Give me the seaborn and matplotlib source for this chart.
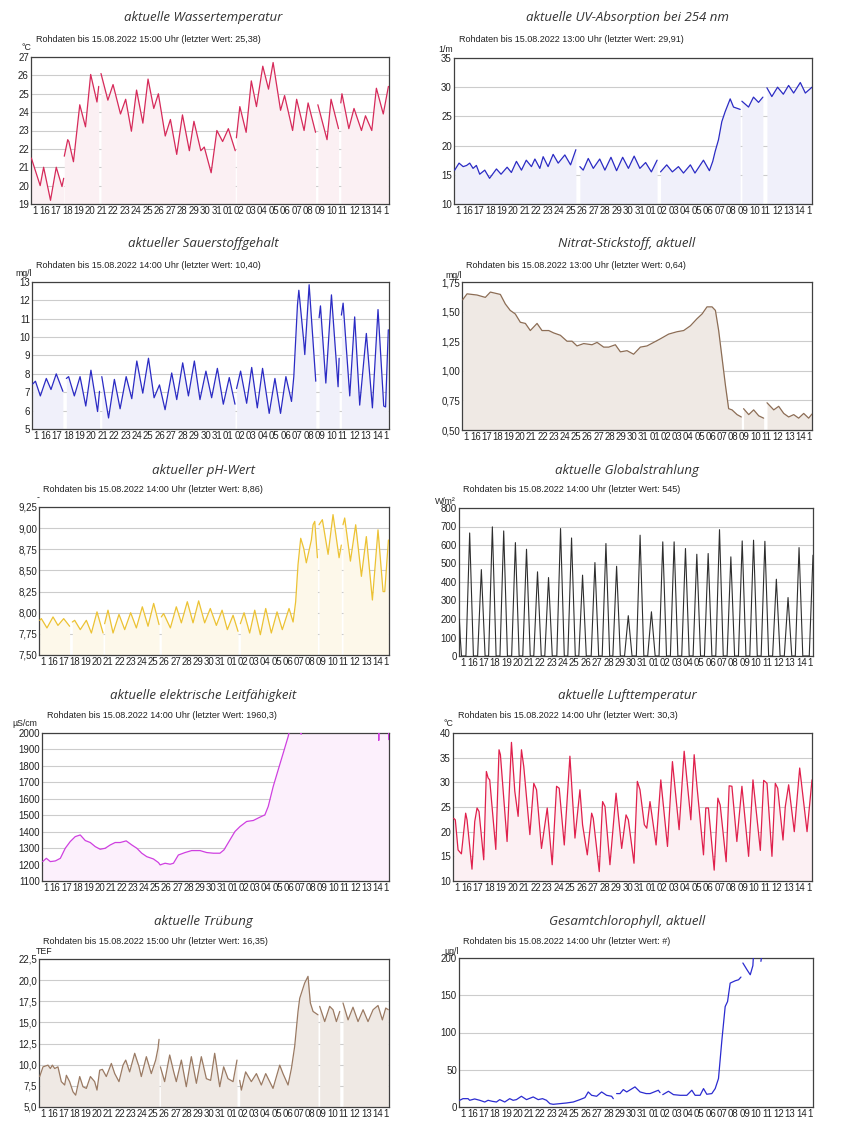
import numpy as np
import pandas as pd
import matplotlib
matplotlib.use("Agg")
import matplotlib.pyplot as plt
import seaborn as sns

nan = float("nan")
GAP = (nan, nan)

# ---------------- x axis (days, 0 = 15.07.2022 00:00) ----------------
day_labels = ["1", "16", "17", "18", "19", "20", "21", "22", "23", "24", "25", "26",
              "27", "28", "29", "30", "31", "01", "02", "03", "04", "05", "06", "07",
              "08", "09", "10", "11", "12", "13", "14", "1"]

# ---------------- data: (day, value) ----------------
wassertemp = [(0.33, 21.5), (1.1, 20.0), (1.4, 21.0), (2.0, 19.2), (2.5, 21.0), (3.0, 19.95),
              (3.15, 20.4), GAP, (3.2, 21.6), (3.5, 22.5), (3.6, 22.4), (4.0, 21.3), (4.55, 24.4),
              (5.05, 23.2), (5.5, 26.05), (6.05, 24.55), (6.2, 25.4), GAP, (6.4, 26.1), (7.0, 24.65),
              (7.45, 25.5), (8.1, 23.9), (8.55, 24.7), (9.05, 22.96), (9.5, 25.2), (10.05, 23.4),
              (10.5, 25.8), (11.0, 24.2), (11.4, 25.0), (12.0, 22.7), (12.45, 23.6), (13.0, 21.7),
              (13.5, 23.85), (14.1, 21.9), (14.5, 23.5), (15.1, 21.9), (15.4, 22.1), (16.0, 20.7),
              (16.5, 23.0), (17.0, 22.4), (17.5, 23.1), (18.1, 21.9), GAP, (18.2, 22.6), (18.5, 24.3),
              (19.05, 22.9), (19.5, 25.7), (19.95, 24.3), (20.5, 26.5), (21.0, 25.25), (21.4, 26.7),
              (22.05, 24.1), (22.4, 24.9), (23.1, 23.0), (23.45, 24.7), (24.1, 23.0), (24.45, 24.5),
              (25.1, 22.9), GAP, (25.3, 24.4), (26.1, 22.5), (26.45, 24.7), (27.1, 23.1), GAP,
              (27.3, 24.5), (27.4, 25.0), (28.0, 23.1), (28.45, 24.2), (29.1, 23.0), (29.45, 23.8),
              (30.0, 23.0), (30.4, 25.3), (31.0, 23.9), (31.45, 25.4)]

uv_abs = [(0.36, 15.8), (0.74, 17.0), (1.1, 16.4), (1.4, 16.6), (1.67, 17.0), (1.96, 16.1),
          (2.25, 16.6), (2.54, 15.1), (2.98, 15.8), (3.4, 14.4), (4.0, 16.0), (4.4, 15.1),
          (4.93, 16.3), (5.3, 15.4), (5.74, 17.3), (6.18, 15.8), (6.6, 17.5), (7.05, 16.4),
          (7.35, 17.7), (7.78, 16.1), (8.07, 18.1), (8.5, 16.4), (8.94, 18.5), (9.38, 17.0),
          (9.96, 18.4), (10.46, 16.7), (10.92, 19.3), GAP, (11.27, 16.4), (11.56, 15.8),
          (12.0, 17.8), (12.44, 16.1), (13.0, 17.7), (13.45, 15.8), (13.98, 18.0), (14.47, 15.7),
          (15.0, 18.0), (15.5, 16.1), (16.0, 18.2), (16.5, 16.1), (17.0, 17.1), (17.5, 15.5),
          (18.0, 17.5), GAP, (18.3, 15.5), (18.84, 16.7), (19.33, 15.5), (19.86, 16.4),
          (20.3, 15.3), (20.9, 16.7), (21.3, 15.3), (22.04, 17.5), (22.56, 15.7), (22.85, 17.3),
          (23.06, 19.0), (23.35, 21.0), (23.64, 24.1), (23.93, 25.8), (24.37, 28.0), (24.66, 26.6),
          (25.24, 26.2), GAP, (25.39, 27.6), (25.97, 26.6), (26.4, 28.3), (26.84, 27.4),
          (27.22, 28.3), GAP, (27.57, 29.9), (28.0, 28.4), (28.5, 30.0), (29.0, 28.8),
          (29.46, 30.3), (29.9, 29.0), (30.48, 30.8), (30.92, 29.0), (31.5, 30.0)]

sauerstoff = [(0.36, 7.45), (0.6, 7.6), (1.03, 6.8), (1.55, 7.75), (1.96, 7.15), (2.42, 8.0),
              (3.0, 7.05), GAP, (3.3, 7.75), (3.5, 7.85), (4.0, 6.8), (4.5, 7.85), (5.0, 6.25),
              (5.45, 8.2), (6.03, 5.95), (6.2, 7.05), GAP, (6.4, 7.85), (6.99, 5.6), (7.5, 7.7),
              (8.0, 6.1), (8.53, 7.85), (9.02, 6.65), (9.46, 8.7), (9.98, 6.95), (10.48, 8.85),
              (10.97, 6.7), (11.44, 7.4), (11.93, 6.05), (12.51, 8.05), (12.95, 6.6), (13.47, 8.6),
              (13.97, 6.8), (14.49, 8.7), (14.98, 6.6), (15.5, 8.15), (16.0, 6.7), (16.5, 8.3),
              (17.02, 6.35), (17.54, 7.8), (18.04, 6.35), GAP, (18.18, 7.2), (18.53, 8.15),
              (19.06, 6.4), (19.5, 8.35), (19.99, 6.15), (20.45, 8.3), (21.03, 5.85), (21.53, 7.75),
              (22.02, 5.85), (22.49, 7.85), (22.98, 6.5), (23.18, 7.85), (23.5, 11.75), (23.62, 12.55),
              (24.06, 9.7), (24.14, 9.05), (24.52, 12.85), (25.1, 7.6), GAP, (25.39, 11.05),
              (25.51, 11.7), (25.98, 7.5), (26.47, 12.3), (27.05, 7.3), (27.14, 8.85), GAP,
              (27.34, 11.2), (27.49, 11.85), (28.07, 6.8), (28.5, 11.1), (28.94, 6.3), (29.52, 10.2),
              (30.05, 6.15), (30.54, 11.5), (31.04, 6.25), (31.2, 6.2), (31.44, 10.4)]

nitrat = [(0.36, 1.60), (0.75, 1.65), (1.64, 1.64), (2.38, 1.62), (2.83, 1.665), (3.72, 1.645),
          (4.16, 1.565), (4.6, 1.51), (5.05, 1.48), (5.5, 1.41), (5.95, 1.40), (6.39, 1.34),
          (6.99, 1.40), (7.43, 1.34), (8.03, 1.34), (8.47, 1.32), (9.07, 1.30), (9.66, 1.25),
          (10.11, 1.25), (10.55, 1.21), (11.15, 1.23), (11.89, 1.22), (12.34, 1.24), (12.93, 1.20),
          (13.38, 1.20), (13.97, 1.22), (14.42, 1.16), (15.01, 1.17), (15.6, 1.14), (16.2, 1.20),
          (16.79, 1.21), (17.39, 1.24), (17.98, 1.27), (18.72, 1.31), (19.47, 1.33), (20.06, 1.34),
          (20.66, 1.38), (21.25, 1.44), (21.7, 1.48), (22.14, 1.54), (22.59, 1.54), (22.89, 1.51),
          (23.18, 1.34), (23.48, 1.11), (23.78, 0.88), (24.07, 0.68), (24.37, 0.67), (24.82, 0.63),
          (25.2, 0.61), GAP, (25.4, 0.68), (25.86, 0.63), (26.3, 0.67), (26.75, 0.62), (27.19, 0.60),
          GAP, (27.49, 0.73), (28.09, 0.67), (28.53, 0.70), (28.98, 0.64), (29.42, 0.61),
          (29.87, 0.63), (30.31, 0.60), (30.76, 0.64), (31.2, 0.60), (31.5, 0.635)]

ph_wert = [(0.36, 7.91), (0.51, 7.93), (1.01, 7.82), (1.55, 7.95), (1.99, 7.85), (2.5, 7.93),
           (3.03, 7.84), GAP, (3.27, 7.89), (3.48, 7.91), (3.98, 7.80), (4.52, 7.91), (4.97, 7.76),
           (5.47, 8.01), (6.01, 7.76), GAP, (6.15, 7.87), (6.45, 8.03), (6.9, 7.76), (7.43, 7.98),
           (7.94, 7.80), (8.47, 8.0), (8.98, 7.82), (9.51, 8.07), (10.02, 7.84), (10.52, 8.11),
           (11.0, 7.86), GAP, (11.2, 7.95), (11.41, 7.99), (12.01, 7.82), (12.54, 8.07), (12.99, 7.88),
           (13.52, 8.13), (14.03, 7.88), (14.53, 8.14), (15.07, 7.88), (15.57, 8.05), (16.11, 7.85),
           (16.62, 8.03), (17.09, 7.80), (17.6, 7.97), (18.04, 7.78), GAP, (18.25, 7.87), (18.58, 8.0),
           (19.08, 7.76), (19.53, 8.03), (20.03, 7.74), (20.51, 8.05), (21.01, 7.76), (21.52, 8.01),
           (21.99, 7.80), (22.59, 8.05), (22.95, 7.89), (23.18, 8.13), (23.39, 8.57), (23.63, 8.88),
           (23.9, 8.76), (24.13, 8.59), (24.58, 8.86), (24.73, 9.04), (24.88, 9.08), (25.03, 8.81),
           (25.12, 8.65), GAP, (25.26, 9.04), (25.56, 9.10), (26.07, 8.69), (26.51, 9.16),
           (27.05, 8.65), (27.25, 8.80), GAP, (27.4, 9.04), (27.55, 9.12), (28.06, 8.61),
           (28.53, 9.04), (29.04, 8.43), (29.48, 8.90), (30.02, 8.15), (30.52, 8.98), (30.97, 8.25),
           (31.12, 8.25), (31.45, 8.86)]

# global radiation: daily peaks (day, W/m2), plus the partial first and last day
strahlung_peak_day = [1.24, 2.27, 3.24, 4.24, 5.27, 6.25, 7.22, 8.19, 9.25, 10.22, 11.19, 12.28,
                      13.25, 14.19, 15.22, 16.26, 17.26, 18.26, 19.26, 20.26, 21.26, 22.26, 23.26,
                      24.26, 25.26, 26.26, 27.26, 28.27, 29.3, 30.27]
strahlung_peak = [665, 467, 698, 676, 613, 577, 455, 424, 689, 638, 437, 505, 608, 485, 218, 653,
                  239, 617, 617, 581, 550, 554, 683, 536, 622, 626, 620, 415, 316, 586]
strahlung_start = [(0.33, 200), (0.42, 90), (0.52, 0)]
strahlung_end = [(31.17, 0), (31.5, 545)]
daylight_half = 0.33  # half of the daylight period, days

leitfaehigkeit = [(0.36, 1218), (0.69, 1238), (1.05, 1218), (1.5, 1222), (1.95, 1238), (2.39, 1299),
                  (2.84, 1340), (3.29, 1370), (3.74, 1380), (4.19, 1346), (4.64, 1334), (5.09, 1309),
                  (5.53, 1293), (5.98, 1299), (6.43, 1319), (6.88, 1334), (7.33, 1334), (7.87, 1344),
                  (8.38, 1319), (8.83, 1299), (9.27, 1269), (9.72, 1248), (10.32, 1234), (10.77, 1212),
                  (10.92, 1198), (11.37, 1208), (11.82, 1202), (12.12, 1208), (12.56, 1258),
                  (13.16, 1273), (13.76, 1285), (14.51, 1285), (15.11, 1273), (15.71, 1269),
                  (16.3, 1269), (16.66, 1289), (17.2, 1350), (17.65, 1401), (18.1, 1431), (18.7, 1462),
                  (19.3, 1468), (19.89, 1488), (20.34, 1502), (20.64, 1553), (21.09, 1675),
                  (21.54, 1777), (21.99, 1878), (22.44, 1980), (22.7, 2060), (23.0, 2150),
                  (23.55, 2100), (23.6, 1993), (23.65, 2100), (24.5, 2150), (30.55, 2150),
                  (30.58, 1955), (30.61, 2150), (31.44, 2150), (31.47, 1960)]

lufttemp = [(0.36, 22.7), (0.5, 22.4), (0.74, 16.3), (1.03, 15.5), (1.4, 23.75), (1.52, 22.4),
            (1.95, 12.4), (2.19, 22.05), (2.39, 24.8), (2.56, 24.1), (2.97, 14.3), (3.2, 32.2),
            (3.35, 30.9), (3.49, 30.5), (4.02, 16.4), (4.3, 36.6), (4.42, 35.6), (5.0, 18.0),
            (5.38, 38.1), (5.67, 28.2), (5.96, 23.1), (6.25, 36.6), (6.45, 33.2), (6.98, 19.4),
            (7.32, 29.8), (7.56, 28.5), (7.99, 16.6), (8.49, 24.8), (8.92, 13.3), (9.3, 29.2),
            (9.53, 28.8), (9.97, 17.3), (10.46, 35.3), (10.9, 18.7), (11.33, 28.5), (11.56, 21.4),
            (11.97, 15.3), (12.35, 23.75), (12.49, 22.7), (13.01, 11.9), (13.3, 26.1), (13.51, 25.1),
            (13.94, 13.3), (14.47, 27.8), (14.96, 16.6), (15.34, 23.4), (15.54, 22.4), (16.03, 13.6),
            (16.32, 30.2), (16.55, 28.5), (16.93, 21.4), (17.14, 20.7), (17.42, 26.1), (17.95, 17.3),
            (18.36, 30.5), (18.94, 17.0), (19.37, 34.2), (19.95, 20.4), (20.39, 36.3), (20.97, 22.4),
            (21.26, 35.6), (21.49, 29.5), (22.07, 15.3), (22.27, 24.8), (22.5, 24.8), (23.0, 12.2),
            (23.32, 26.8), (23.52, 25.4), (24.04, 13.9), (24.3, 29.3), (24.54, 29.2), (24.97, 18.0),
            (25.41, 29.2), (25.99, 15.0), (26.37, 30.5), (27.01, 16.2), (27.3, 30.4), (27.59, 29.8),
            (28.02, 15.0), (28.31, 29.8), (28.52, 28.8), (28.98, 18.3), (29.18, 25.1), (29.47, 29.5),
            (29.96, 20.0), (30.43, 32.9), (31.07, 20.0), (31.5, 30.5)]

truebung = [(0.36, 8.6), (0.66, 9.75), (1.1, 9.95), (1.31, 9.55), (1.49, 9.95), (1.7, 9.55),
            (1.99, 9.75), (2.29, 8.0), (2.59, 7.6), (2.74, 8.75), (3.03, 8.0), (3.33, 6.8),
            (3.57, 6.4), (3.93, 8.6), (4.22, 7.4), (4.52, 7.2), (4.88, 8.6), (5.26, 8.0), (5.47, 7.0),
            (5.71, 9.35), (5.95, 9.45), (6.3, 8.6), (6.75, 10.15), (7.05, 8.95), (7.43, 8.0),
            (7.79, 9.95), (8.03, 10.55), (8.38, 9.15), (8.83, 11.35), (9.22, 9.75), (9.42, 8.6),
            (9.87, 10.95), (10.31, 8.95), (10.7, 10.55), (10.91, 11.95), (11.0, 13.0), GAP,
            (11.12, 9.75), (11.5, 8.0), (11.95, 11.15), (12.31, 9.15), (12.54, 8.0), (12.99, 10.55),
            (13.43, 7.4), (13.88, 10.95), (14.33, 7.8), (14.77, 10.95), (15.22, 8.35), (15.6, 8.15),
            (15.96, 11.35), (16.41, 7.4), (16.76, 9.75), (17.15, 8.35), (17.6, 8.0), (17.95, 10.55),
            GAP, (18.19, 8.15), (18.34, 7.0), (18.72, 9.15), (19.23, 8.0), (19.68, 8.95),
            (20.12, 7.6), (20.51, 8.95), (21.16, 7.2), (21.76, 9.95), (22.05, 8.95), (22.5, 7.6),
            (22.8, 9.55), (23.09, 12.15), (23.39, 16.3), (23.54, 17.85), (23.98, 19.65),
            (24.28, 20.45), (24.49, 17.3), (24.73, 16.3), (25.17, 15.9), GAP, (25.32, 16.9),
            (25.77, 15.1), (26.21, 16.9), (26.51, 16.5), (26.81, 15.1), (27.11, 16.3), GAP,
            (27.4, 17.3), (27.85, 15.3), (28.29, 16.8), (28.74, 15.1), (29.19, 16.5), (29.63, 15.1),
            (30.08, 16.5), (30.52, 17.0), (30.91, 15.3), (31.21, 16.7), (31.44, 16.5)]

chlorophyll = [(0.36, 9.0), (0.65, 11.2), (1.1, 11.2), (1.24, 9.0), (1.68, 10.8), (2.13, 9.0),
               (2.57, 6.7), (2.86, 9.0), (3.24, 7.6), (3.6, 6.7), (3.89, 9.9), (4.33, 6.7),
               (4.77, 11.2), (5.07, 9.0), (5.36, 9.9), (5.8, 14.4), (6.25, 9.9), (6.84, 13.5),
               (7.28, 9.9), (7.66, 11.2), (8.01, 9.0), (8.16, 6.7), (8.31, 4.5), (8.6, 3.6),
               (9.19, 4.5), (9.78, 5.4), (10.37, 6.7), (10.96, 9.9), (11.4, 12.6), (11.69, 20.2),
               (11.99, 15.7), (12.43, 14.4), (12.87, 20.2), (13.31, 15.7), (13.75, 14.4),
               (13.9, 11.2), GAP, (14.19, 18.0), (14.49, 18.0), (14.78, 23.4), (15.08, 20.2),
               (15.81, 27.0), (16.26, 20.2), (16.79, 18.0), (17.14, 18.0), (17.87, 22.5),
               (18.02, 19.3), GAP, (18.26, 16.6), (18.76, 21.1), (19.2, 16.6), (19.79, 15.7),
               (20.38, 15.7), (20.82, 22.5), (21.11, 15.7), (21.55, 15.7), (21.85, 24.7),
               (22.14, 17.1), (22.58, 18.0), (22.88, 24.7), (23.17, 38.2), (23.47, 89.9),
               (23.76, 134.8), (23.97, 141.6), (24.2, 166.3), (24.64, 169.4), (24.94, 170.8),
               (25.15, 174.4), GAP, (25.32, 193.3), (25.68, 184.3), (25.97, 177.5), (26.2, 189.7),
               (26.26, 205.0), GAP, (26.91, 195.5), (27.0, 205.0)]

# ---------------- panel texts & scales ----------------
titles = ["aktuelle Wassertemperatur", "aktuelle UV-Absorption bei 254 nm",
          "aktueller Sauerstoffgehalt", "Nitrat-Stickstoff, aktuell",
          "aktueller pH-Wert", "aktuelle Globalstrahlung",
          "aktuelle elektrische Leitfähigkeit", "aktuelle Lufttemperatur",
          "aktuelle Trübung", "Gesamtchlorophyll, aktuell"]
subtitles = ["Rohdaten bis 15.08.2022 15:00 Uhr (letzter Wert: 25,38)",
             "Rohdaten bis 15.08.2022 13:00 Uhr (letzter Wert: 29,91)",
             "Rohdaten bis 15.08.2022 14:00 Uhr (letzter Wert: 10,40)",
             "Rohdaten bis 15.08.2022 13:00 Uhr (letzter Wert: 0,64)",
             "Rohdaten bis 15.08.2022 14:00 Uhr (letzter Wert: 8,86)",
             "Rohdaten bis 15.08.2022 14:00 Uhr (letzter Wert: 545)",
             "Rohdaten bis 15.08.2022 14:00 Uhr (letzter Wert: 1960,3)",
             "Rohdaten bis 15.08.2022 14:00 Uhr (letzter Wert: 30,3)",
             "Rohdaten bis 15.08.2022 15:00 Uhr (letzter Wert: 16,35)",
             "Rohdaten bis 15.08.2022 14:00 Uhr (letzter Wert: #)"]
units = ["°C", "1/m", "mg/l", "mg/l", "-", "W/m²", "µS/cm", "°C", "TEF", "µg/l"]

yticks = [[19, 20, 21, 22, 23, 24, 25, 26, 27],
          [10, 15, 20, 25, 30, 35],
          [5, 6, 7, 8, 9, 10, 11, 12, 13],
          [0.50, 0.75, 1.00, 1.25, 1.50, 1.75],
          [7.50, 7.75, 8.00, 8.25, 8.50, 8.75, 9.00, 9.25],
          [0, 100, 200, 300, 400, 500, 600, 700, 800],
          [1100, 1200, 1300, 1400, 1500, 1600, 1700, 1800, 1900, 2000],
          [10, 15, 20, 25, 30, 35, 40],
          [5.0, 7.5, 10.0, 12.5, 15.0, 17.5, 20.0, 22.5],
          [0, 50, 100, 150, 200]]
ytick_labels = [["19", "20", "21", "22", "23", "24", "25", "26", "27"],
                ["10", "15", "20", "25", "30", "35"],
                ["5", "6", "7", "8", "9", "10", "11", "12", "13"],
                ["0,50", "0,75", "1,00", "1,25", "1,50", "1,75"],
                ["7,50", "7,75", "8,00", "8,25", "8,50", "8,75", "9,00", "9,25"],
                ["0", "100", "200", "300", "400", "500", "600", "700", "800"],
                ["1100", "1200", "1300", "1400", "1500", "1600", "1700", "1800", "1900", "2000"],
                ["10", "15", "20", "25", "30", "35", "40"],
                ["5,0", "7,5", "10,0", "12,5", "15,0", "17,5", "20,0", "22,5"],
                ["0", "50", "100", "150", "200"]]

# ---------------- build global radiation series ----------------
strahlung = list(strahlung_start)
for d, p in zip(strahlung_peak_day, strahlung_peak):
    strahlung += [(d - daylight_half, 0), (d, p), (d + daylight_half, 0)]
strahlung += strahlung_end

series = [wassertemp, uv_abs, sauerstoff, nitrat, ph_wert, strahlung,
          leitfaehigkeit, lufttemp, truebung, chlorophyll]

# ---------------- styling / layout ----------------
line_colors = ["#d62a5a", "#2b2bc4", "#2b2bc4", "#8c6d55", "#ecc233", "#2e2e2e",
               "#cf3fe0", "#e0204c", "#9a7a63", "#2b2bd0"]
fill_colors = ["#fbf0f3", "#f0f0fa", "#f0f0fa", "#efe9e4", "#fdf8ea", None,
               "#fcf0fc", "#fcf0f3", "#efe9e4", None]
# axes frames in pixels (left, top, right, bottom)
frames = [(31, 57, 389, 204), (454, 58, 812, 204),
          (32, 282, 389, 429), (462, 282, 812, 430),
          (39, 507, 389, 655), (459, 508, 813, 656),
          (42, 733, 389, 881), (453, 733, 812, 881),
          (39, 959, 389, 1107), (459, 958, 813, 1107)]
title_x = [203, 627]
title_y = [18, 244, 470, 696, 922]
sub_y = [40, 265, 490, 716, 942]
sub_x = [36, 459, 36, 466, 43, 463, 47, 458, 43, 463]
unit_pos = [(22, 48), (438, 49), (15, 274), (445, 275), (37, 498),
            (435, 501), (12, 724), (444, 724), (36, 952), (444, 951)]

W, H = 852, 1128
sns.set_theme(style="white")
plt.rcParams["font.family"] = ["Liberation Sans", "DejaVu Sans"]

fig = plt.figure(figsize=(W / 100, H / 100), dpi=100)
fig.patch.set_facecolor("white")

label_pos = [0.45] + list(range(1, 32))

for i in range(10):
    l, t, r, b = frames[i]
    ax = fig.add_axes([l / W, 1 - b / H, (r - l) / W, (b - t) / H])
    ax.set_facecolor("white")
    pts = series[i]
    df = pd.DataFrame(pts, columns=["t", "v"])
    df["seg"] = df["v"].isna().cumsum()
    df = df.dropna()
    y0, y1 = yticks[i][0], yticks[i][-1]
    if fill_colors[i] is not None:
        for _, g in df.groupby("seg"):
            ax.fill_between(g["t"].values, g["v"].values, y0, color=fill_colors[i], lw=0, zorder=1)
    sns.lineplot(data=df, x="t", y="v", units="seg", estimator=None, color=line_colors[i],
                 lw=0.9 if i != 5 else 0.8, ax=ax, legend=False, zorder=3)
    ax.set_xlim(0.3, 31.5)
    ax.set_ylim(y0, y1)
    ax.set_xlabel("")
    ax.set_ylabel("")
    ax.set_yticks(yticks[i])
    ax.set_yticklabels(ytick_labels[i])
    ax.set_xticks(range(1, 32), minor=True)
    ax.set_xticks(label_pos)
    ax.set_xticklabels(day_labels, ha="left")
    ax.grid(which="minor", axis="x", color="#cccccc", lw=0.8, zorder=0)
    ax.grid(which="major", axis="y", color="#cccccc", lw=0.8, zorder=0)
    ax.grid(which="major", axis="x", visible=False)
    ax.set_axisbelow(True)
    ax.tick_params(axis="x", which="major", length=0, pad=1.2, labelsize=6.9, colors="#222222")
    ax.tick_params(axis="x", which="minor", length=2, width=0.6, color="#555555", direction="out")
    ax.tick_params(axis="y", which="major", length=0, pad=1.5, labelsize=7, colors="#222222")
    for s in ax.spines.values():
        s.set_color("#404040")
        s.set_linewidth(0.9)
        s.set_visible(True)
    row, col = divmod(i, 2)
    fig.text(title_x[col] / W, 1 - title_y[row] / H, titles[i], ha="center", va="center",
             fontsize=9.5, style="italic", family=["Open Sans", "DejaVu Sans"], color="#333333")
    fig.text(sub_x[i] / W, 1 - sub_y[row] / H, subtitles[i], ha="left", va="center",
             fontsize=6.5, color="#222222")
    ux, uy = unit_pos[i]
    fig.text(ux / W, 1 - uy / H, units[i], ha="left", va="center", fontsize=6.3, color="#222222")

fig.savefig("out.png", dpi=100, facecolor="white")
